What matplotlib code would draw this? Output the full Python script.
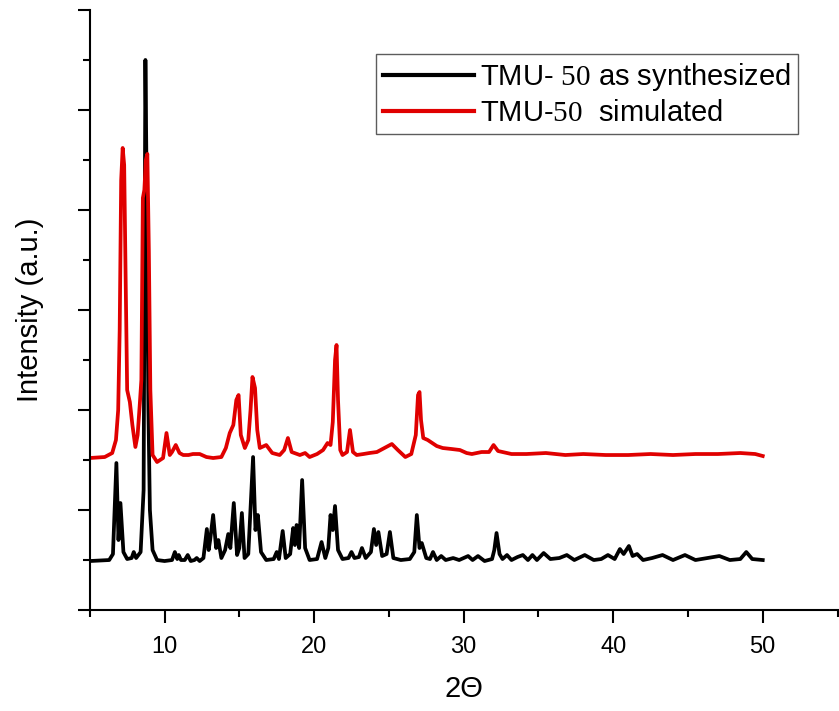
import numpy as np
import matplotlib
matplotlib.use("Agg")
import matplotlib.pyplot as plt
from matplotlib.ticker import MultipleLocator, NullFormatter

plt.rcParams["font.family"] = ["Liberation Sans", "DejaVu Sans"]
plt.rcParams["mathtext.fontset"] = "custom"
plt.rcParams["mathtext.rm"] = "Liberation Serif"

# ---- data (2theta, intensity in arbitrary units) ----
synth_x = [5.0, 6.3, 6.55, 6.78, 6.92, 7.05, 7.25, 7.5, 7.8, 7.94,
           8.1, 8.4, 8.6, 8.72, 8.82, 8.92, 9.02, 9.2, 9.5, 10.0,
           10.5, 10.69, 10.85, 10.95, 11.1, 11.35, 11.55, 11.75, 12.0, 12.15,
           12.35, 12.6, 12.83, 12.95, 13.05, 13.25, 13.45, 13.6, 13.8, 14.05,
           14.26, 14.4, 14.63, 14.85, 15.0, 15.17, 15.35, 15.6, 15.92, 16.08,
           16.24, 16.45, 16.8, 17.3, 17.5, 17.65, 17.9, 18.1, 18.4, 18.6,
           18.72, 18.83, 19.0, 19.2, 19.4, 19.7, 20.2, 20.5, 20.75, 20.95,
           21.1, 21.25, 21.4, 21.6, 21.9, 22.3, 22.5, 22.7, 23.0, 23.2,
           23.45, 23.8, 24.0, 24.15, 24.3, 24.55, 24.85, 25.07, 25.3, 25.8,
           26.4, 26.7, 26.87, 27.05, 27.2, 27.5, 27.75, 27.95, 28.2, 28.5,
           28.8, 29.3, 29.7, 30.3, 30.6, 30.96, 31.4, 31.9, 32.05, 32.2,
           32.4, 32.6, 32.9, 33.2, 33.6, 33.96, 34.3, 34.6, 34.9, 35.35,
           35.8, 36.4, 36.9, 37.4, 38.1, 38.7, 39.2, 39.65, 40.1, 40.45,
           40.7, 41.05, 41.3, 41.6, 42.0, 42.6, 43.3, 44.0, 44.8, 45.5,
           46.3, 47.1, 47.8, 48.5, 48.9, 49.3, 50.0]
synth_y = [0.49, 0.50, 0.56, 1.47, 0.70, 1.07, 0.58, 0.51, 0.52, 0.58,
           0.52, 0.58, 1.20, 5.50, 4.00, 2.00, 1.00, 0.60, 0.50, 0.49,
           0.50, 0.58, 0.51, 0.55, 0.50, 0.50, 0.55, 0.49, 0.50, 0.52,
           0.49, 0.52, 0.81, 0.60, 0.70, 0.95, 0.62, 0.70, 0.52, 0.60,
           0.76, 0.62, 1.07, 0.55, 0.62, 0.97, 0.52, 0.56, 1.53, 0.80,
           0.95, 0.58, 0.50, 0.51, 0.58, 0.51, 0.79, 0.52, 0.56, 0.82,
           0.65, 0.85, 0.62, 1.30, 0.62, 0.50, 0.51, 0.68, 0.52, 0.62,
           0.95, 0.80, 1.04, 0.60, 0.51, 0.52, 0.58, 0.52, 0.53, 0.62,
           0.52, 0.58, 0.81, 0.65, 0.78, 0.54, 0.56, 0.78, 0.52, 0.50,
           0.51, 0.58, 0.95, 0.62, 0.67, 0.52, 0.51, 0.58, 0.50, 0.54,
           0.50, 0.52, 0.50, 0.54, 0.50, 0.54, 0.49, 0.51, 0.60, 0.77,
           0.56, 0.51, 0.55, 0.50, 0.53, 0.55, 0.50, 0.55, 0.50, 0.57,
           0.51, 0.52, 0.55, 0.50, 0.55, 0.50, 0.51, 0.55, 0.51, 0.61,
           0.56, 0.64, 0.54, 0.56, 0.50, 0.52, 0.55, 0.50, 0.55, 0.50,
           0.52, 0.54, 0.50, 0.51, 0.58, 0.51, 0.50]

sim_x = [5.0, 6.0, 6.5, 6.75, 6.9, 7.0, 7.1, 7.2, 7.3, 7.4,
         7.5, 7.68, 7.85, 8.05, 8.2, 8.35, 8.45, 8.55, 8.65, 8.75,
         8.85, 8.95, 9.05, 9.2, 9.5, 9.9, 10.13, 10.35, 10.5, 10.75,
         11.0, 11.25, 11.6, 11.9, 12.35, 12.8, 13.25, 13.8, 14.1, 14.36,
         14.6, 14.8, 14.95, 15.1, 15.37, 15.6, 15.75, 15.88, 16.05, 16.2,
         16.37, 16.8, 17.2, 17.7, 18.0, 18.25, 18.5, 19.05, 19.4, 19.7,
         20.2, 20.6, 20.9, 21.1, 21.25, 21.4, 21.5, 21.6, 21.75, 21.9,
         22.2, 22.4, 22.6, 22.85, 23.3, 23.7, 24.2, 24.7, 25.2, 25.6,
         26.1, 26.5, 26.8, 26.95, 27.05, 27.15, 27.3, 27.6, 27.9, 28.2,
         28.6, 29.2, 29.75, 30.2, 30.55, 31.2, 31.7, 32.0, 32.3, 32.6,
         33.2, 34.2, 35.5, 36.8, 38.0, 39.5, 41.0, 42.5, 44.0, 45.5,
         47.0, 48.5, 49.5, 50.0]
sim_y = [1.52, 1.53, 1.57, 1.70, 2.00, 2.80, 4.30, 4.62, 4.45, 3.30,
         2.20, 2.08, 1.85, 1.63, 1.75, 2.07, 2.30, 4.12, 4.20, 4.50,
         4.56, 3.60, 2.20, 1.55, 1.48, 1.52, 1.77, 1.55, 1.58, 1.65,
         1.57, 1.55, 1.55, 1.56, 1.56, 1.53, 1.52, 1.53, 1.62, 1.77,
         1.85, 2.10, 2.15, 1.75, 1.62, 1.70, 2.00, 2.33, 2.22, 1.80,
         1.62, 1.65, 1.57, 1.55, 1.60, 1.72, 1.58, 1.55, 1.57, 1.53,
         1.56, 1.60, 1.67, 1.65, 1.88, 2.50, 2.65, 2.10, 1.60, 1.55,
         1.58, 1.80, 1.58, 1.55, 1.56, 1.57, 1.58, 1.62, 1.66, 1.60,
         1.53, 1.56, 1.75, 2.15, 2.18, 1.90, 1.72, 1.70, 1.67, 1.64,
         1.62, 1.61, 1.60, 1.57, 1.56, 1.58, 1.58, 1.65, 1.59, 1.58,
         1.56, 1.56, 1.57, 1.55, 1.56, 1.55, 1.55, 1.56, 1.55, 1.56,
         1.56, 1.57, 1.56, 1.54]

x_ticks = [10, 20, 30, 40, 50]

fig = plt.figure(figsize=(8.39, 7.11), dpi=100)
ax = fig.add_axes([0.107, 0.142, 0.893, 0.844])

ax.plot(synth_x, synth_y, color="black", lw=2.7, label=r"TMU- $\mathrm{50}$ as synthesized")
ax.plot(sim_x, sim_y, color="#e00000", lw=2.7, label=r"TMU-$\mathrm{50}$  simulated")

ax.set_xlim(5, 55.1)
ax.set_ylim(0, 6)
ax.set_xticks(x_ticks)
ax.xaxis.set_minor_locator(MultipleLocator(5))
ax.yaxis.set_major_locator(MultipleLocator(1))
ax.yaxis.set_minor_locator(MultipleLocator(0.5))
ax.yaxis.set_major_formatter(NullFormatter())

for s in ["top", "right"]:
    ax.spines[s].set_visible(False)
for s in ["left", "bottom"]:
    ax.spines[s].set_linewidth(1.5)
ax.tick_params(which="major", direction="out", length=9, width=1.5, labelsize=17, pad=10)
ax.tick_params(which="minor", direction="out", length=5, width=1.5)

ax.set_xlabel("2Θ", fontsize=21, labelpad=12)
ax.set_ylabel("Intensity (a.u.)", fontsize=21, labelpad=14)

leg = ax.legend(loc="upper right", bbox_to_anchor=(0.945, 0.927), fontsize=21,
                frameon=True, fancybox=False, edgecolor="#333333",
                handlelength=3.1, handletextpad=0.2, borderpad=0.25,
                labelspacing=0.2, borderaxespad=0)
leg.get_frame().set_linewidth(1.0)
for line in leg.get_lines():
    line.set_linewidth(3)

fig.savefig("out.png", dpi=100)
